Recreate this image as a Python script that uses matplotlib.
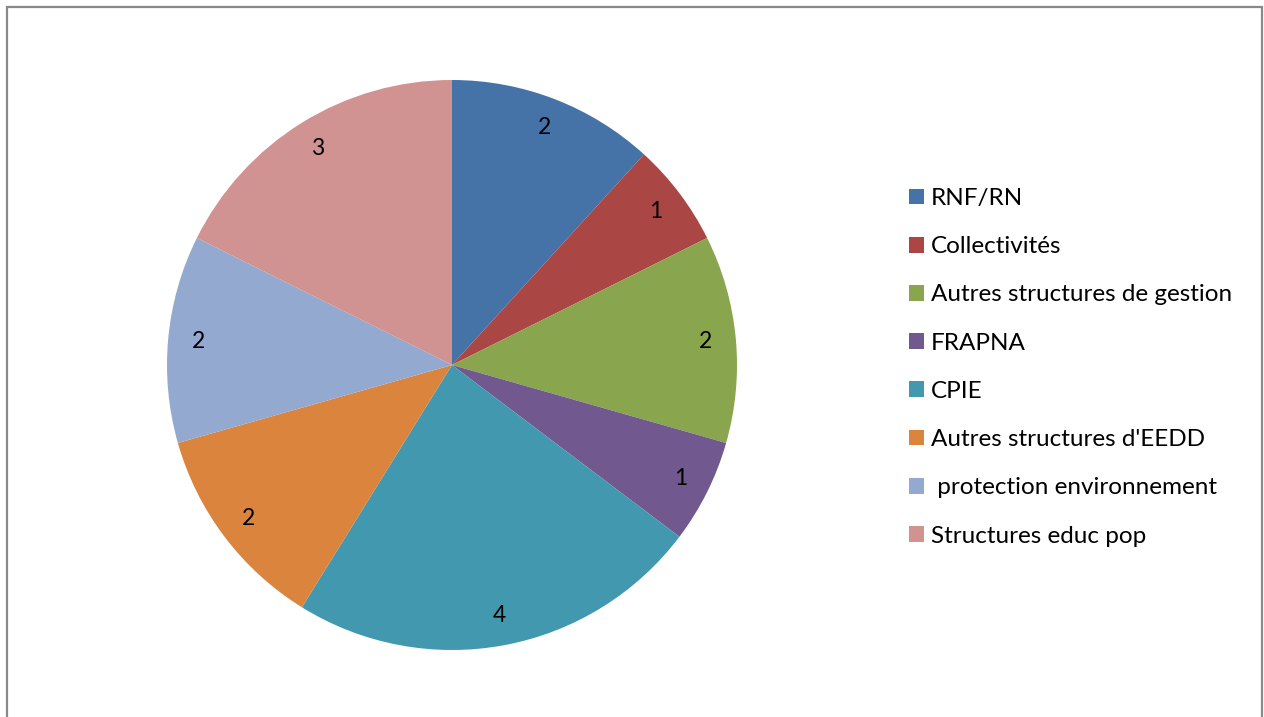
import matplotlib
matplotlib.use("Agg")
import matplotlib.pyplot as plt
from matplotlib.patches import Rectangle

categories = ["RNF/RN", "Collectivités", "Autres structures de gestion", "FRAPNA",
              "CPIE", "Autres structures d'EEDD", " protection environnement",
              "Structures educ pop"]
values = [2, 1, 2, 1, 4, 2, 2, 3]
colors = ["#4572A7", "#AA4643", "#89A54E", "#71588F", "#4198AF", "#DB843D",
          "#93A9CF", "#D19392"]

W, H = 1264, 717
fig = plt.figure(figsize=(W / 100, H / 100), dpi=100)
fig.patch.set_facecolor("white")

plt.rcParams["font.family"] = ["Lato", "DejaVu Sans"]

# chart border
fig.patches.append(Rectangle((7 / W, -0.05), (1262 - 7) / W, 1 - 7 / H + 0.05,
                             transform=fig.transFigure, fill=False,
                             edgecolor="#898989", linewidth=1.6))

cx, cy, r = 452, 365, 285
ax = fig.add_axes([(cx - r) / W, (H - cy - r) / H, 2 * r / W, 2 * r / H])
wedges, texts = ax.pie(values, colors=colors, startangle=90, counterclock=False,
                       labels=[str(v) for v in values], labeldistance=0.895,
                       wedgeprops=dict(linewidth=0),
                       textprops=dict(fontsize=16.5, color="black",
                                      ha="center", va="center"))
for t in texts:
    t.set_horizontalalignment("center")
    t.set_verticalalignment("center")
ax.set_xlim(-1, 1)
ax.set_ylim(-1, 1)
ax.set_aspect("equal")
ax.axis("off")

fs = 17.5
leg = fig.legend(wedges, categories, loc="upper left",
                 bbox_to_anchor=(909 / W, 1 - 188 / H),
                 frameon=False, fontsize=fs, handlelength=0.62, handleheight=0.62,
                 handletextpad=0.29, labelspacing=1.12, borderaxespad=0,
                 borderpad=0)

fig.savefig("out.png", dpi=100)
